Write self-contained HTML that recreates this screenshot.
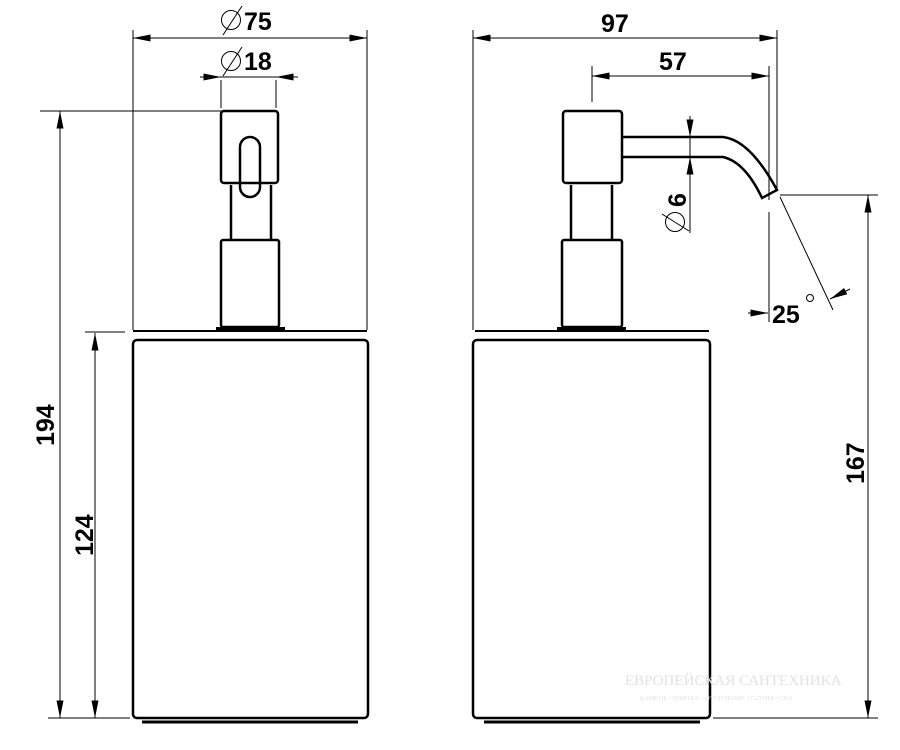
<!DOCTYPE html>
<html><head><style>body{margin:0;background:#fff}svg{display:block}</style></head><body>
<svg width="900" height="750" viewBox="0 0 900 750" xmlns="http://www.w3.org/2000/svg" font-family="Liberation Sans, sans-serif" font-weight="bold">
<defs>
<marker id="a" viewBox="0 0 10 4" refX="10" refY="2" markerWidth="18" markerHeight="7" markerUnits="userSpaceOnUse" orient="auto-start-reverse"><path d="M0,0L10,2L0,4z" fill="#000"/></marker>
</defs>
<g stroke="#000" fill="none">
<g stroke-width="1">
<line x1="133" y1="30" x2="133" y2="330"/>
<line x1="367" y1="30" x2="367" y2="330"/>
<line x1="133" y1="38" x2="367" y2="38" marker-start="url(#a)" marker-end="url(#a)"/>
<line x1="221" y1="80" x2="221" y2="108"/>
<line x1="276" y1="80" x2="276" y2="108"/>
<line x1="200" y1="77" x2="221" y2="77" marker-end="url(#a)"/>
<line x1="298" y1="77" x2="276" y2="77" marker-end="url(#a)"/>
<line x1="221" y1="77" x2="276" y2="77"/>
<line x1="40" y1="111" x2="221" y2="111"/>
<line x1="60" y1="111" x2="60" y2="718" marker-start="url(#a)" marker-end="url(#a)"/>
<line x1="85" y1="332" x2="125" y2="332"/>
<line x1="48" y1="718" x2="130" y2="718"/>
<line x1="95" y1="333" x2="95" y2="718" marker-start="url(#a)" marker-end="url(#a)"/>
</g>
<g stroke-width="2.5">
<rect x="221" y="111" width="57" height="72" rx="3"/>
<rect x="240" y="137" width="20" height="60" rx="10"/>
<line x1="231" y1="185" x2="231" y2="240"/><line x1="271" y1="185" x2="271" y2="240"/>
<rect x="221" y="240" width="58" height="87" rx="2"/>
<line x1="216" y1="329" x2="285" y2="329" stroke-width="4"/>
<line x1="133" y1="331" x2="367" y2="331" stroke-width="2"/>
<rect x="133" y="340" width="235" height="378" rx="4"/>
<line x1="142" y1="722" x2="358" y2="722" stroke-width="3"/>
</g>
<g stroke-width="1">
<line x1="473" y1="30" x2="473" y2="330"/>
<line x1="777" y1="30" x2="777" y2="190"/>
<line x1="473" y1="38" x2="777" y2="38" marker-start="url(#a)" marker-end="url(#a)"/>
<line x1="592" y1="66" x2="592" y2="102"/>
<line x1="769" y1="66" x2="769" y2="200"/>
<line x1="769" y1="212" x2="769" y2="322"/>
<line x1="592" y1="76" x2="769" y2="76" marker-start="url(#a)" marker-end="url(#a)"/>
<line x1="690" y1="116" x2="690" y2="137" marker-end="url(#a)"/>
<line x1="690" y1="233" x2="690" y2="157" marker-end="url(#a)"/>
<line x1="690" y1="137" x2="690" y2="157"/>
<line x1="780" y1="197" x2="833" y2="310"/>
<line x1="748" y1="313" x2="768" y2="313" marker-end="url(#a)"/>
<line x1="850" y1="289" x2="830" y2="299" marker-end="url(#a)"/>
<line x1="780" y1="195" x2="878" y2="195"/>
<line x1="713" y1="718" x2="878" y2="718"/>
<line x1="868" y1="195" x2="868" y2="718" marker-start="url(#a)" marker-end="url(#a)"/>
</g>
<g stroke-width="2.5">
<rect x="563" y="111" width="59" height="72" rx="3"/>
<line x1="571" y1="185" x2="571" y2="240"/><line x1="612" y1="185" x2="612" y2="240"/>
<path d="M622,137 L723,137 Q750,140 777,190 L762,198 Q745,162 723,157 L622,157"/>
<rect x="562" y="240" width="60" height="87" rx="2"/>
<line x1="557" y1="329" x2="626" y2="329" stroke-width="4"/>
<line x1="475" y1="331" x2="709" y2="331" stroke-width="2"/>
<rect x="473" y="340" width="237" height="378" rx="4"/>
<line x1="484" y1="722" x2="700" y2="722" stroke-width="3"/>
</g>
</g>
<g font-size="25" fill="#000">
<text x="244" y="30">75</text>
<text x="244" y="70">18</text>
<text x="601" y="32">97</text>
<text x="659" y="70">57</text>
<text x="772" y="323">25</text>
<text transform="translate(54,446) rotate(-90)">194</text>
<text transform="translate(93,556) rotate(-90)">124</text>
<text transform="translate(864,484) rotate(-90)">167</text>
<text transform="translate(686,207) rotate(-90)">6</text>
</g>
<g stroke="#000" fill="none" stroke-width="1">
<circle cx="231" cy="20" r="9.5"/><line x1="223" y1="35" x2="242" y2="6"/>
<circle cx="231" cy="61" r="9.5"/><line x1="223" y1="76" x2="242" y2="47"/>
<circle cx="675" cy="222" r="9.5"/><line x1="662" y1="214" x2="689" y2="231"/>
<circle cx="810" cy="298" r="3.5"/>
</g>
<g font-family="Liberation Serif, serif" font-weight="normal">
<text x="625" y="685" font-size="15" fill="#e2e2e2">ЕВРОПЕЙСКАЯ САНТЕХНИКА</text>
<text x="640" y="700" font-size="6.5" fill="#e2e2e2">КАМЕНЬ • ПЛИТКА • ОТОПЛЕНИЕ • САУНЫ • СПА</text>
</g>
</svg>
</body></html>
